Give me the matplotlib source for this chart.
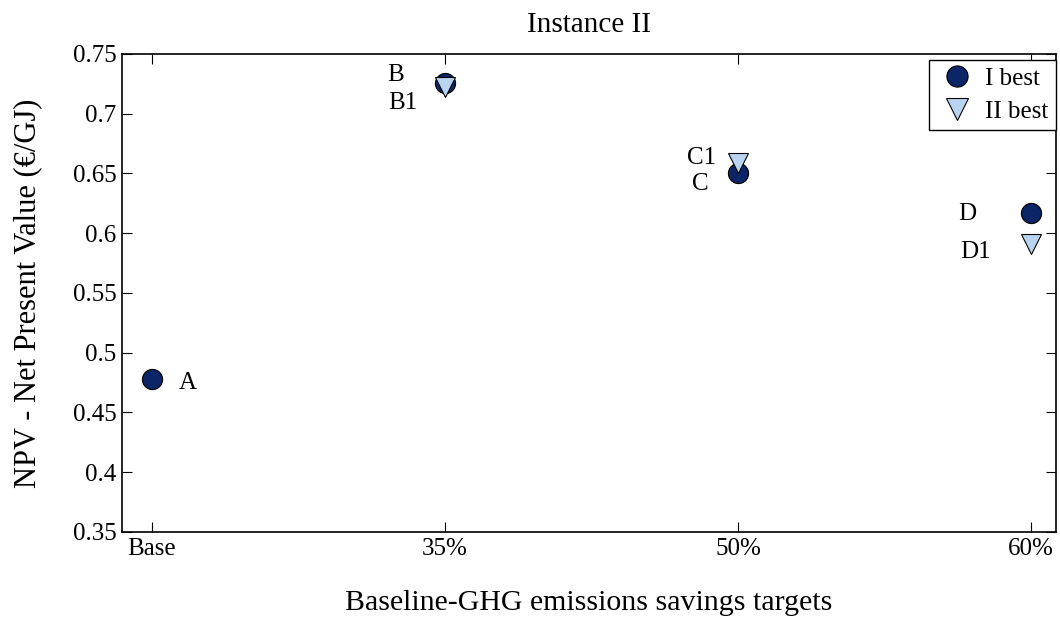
import matplotlib.pyplot as plt

plt.rcParams['font.family'] = ['Liberation Serif', 'DejaVu Serif']

# scenario targets on the x axis
categories = ['Base', '35%', '50%', '60%']

# NPV of the best solution per criterion (€/GJ)
npv_best_I = [0.478, 0.726, 0.650, 0.617]
npv_best_II = [None, 0.722, 0.659, 0.591]
labels_I = ['A', 'B', 'C', 'D']
labels_II = [None, 'B1', 'C1', 'D1']

y_ticks = [0.35, 0.4, 0.45, 0.5, 0.55, 0.6, 0.65, 0.7, 0.75]

fig = plt.figure(figsize=(10.6, 6.17), dpi=100)
ax = fig.add_axes([0.1151, 0.1378, 0.8811, 0.7747])

x_pos = list(range(1, len(categories) + 1))
ms = 14.5

ax.plot(x_pos, npv_best_I, linestyle='none', marker='o', markersize=ms,
        markerfacecolor='#0b2566', markeredgecolor='black', markeredgewidth=0.8,
        label='I best', zorder=3)
x2 = [x for x, v in zip(x_pos, npv_best_II) if v is not None]
y2 = [v for v in npv_best_II if v is not None]
ax.plot(x2, y2, linestyle='none', marker='v', markersize=ms,
        markerfacecolor='#b9d4f1', markeredgecolor='black', markeredgewidth=0.8,
        label='II best', zorder=4)

# point labels, offsets in pixels
offs_I = [(36, -4), (-49, 8), (-38, -11), (-64, -1)]
offs_II = [None, (-42, -16), (-36, 5), (-56, -8)]
for x, v, t, o in zip(x_pos, npv_best_I, labels_I, offs_I):
    ax.annotate(t, (x, v), xytext=(o[0] * 0.72, o[1] * 0.72), textcoords='offset points',
                ha='center', va='center', fontsize=18)
for x, v, t, o in zip(x_pos, npv_best_II, labels_II, offs_II):
    if v is None:
        continue
    ax.annotate(t, (x, v), xytext=(o[0] * 0.72, o[1] * 0.72), textcoords='offset points',
                ha='center', va='center', fontsize=18)

ax.set_xlim(0.898, 4.085)
ax.set_ylim(0.35, 0.75)
ax.set_xticks(x_pos)
ax.set_xticklabels(categories)
ax.set_yticks(y_ticks)
ax.set_yticklabels(['%g' % t for t in y_ticks])
ax.tick_params(direction='in', length=7, width=0.8, labelsize=18,
               top=True, right=True, pad=4)
for s in ax.spines.values():
    s.set_linewidth(1.2)

ax.set_title('Instance II', fontsize=21, pad=16)
ax.set_xlabel('Baseline-GHG emissions savings targets', fontsize=21.5, labelpad=22)
ax.set_ylabel('NPV - Net Present Value (€/GJ)', fontsize=22, labelpad=22)

leg = ax.legend(loc='upper right', bbox_to_anchor=(0.9995, 0.987), fontsize=18,
                fancybox=False, edgecolor='black', framealpha=1, borderaxespad=0,
                handletextpad=0.25, borderpad=0.3, labelspacing=0.4,
                handlelength=1.7, markerscale=1.05)
leg.get_frame().set_linewidth(1.0)

fig.savefig('out.png', dpi=100)
